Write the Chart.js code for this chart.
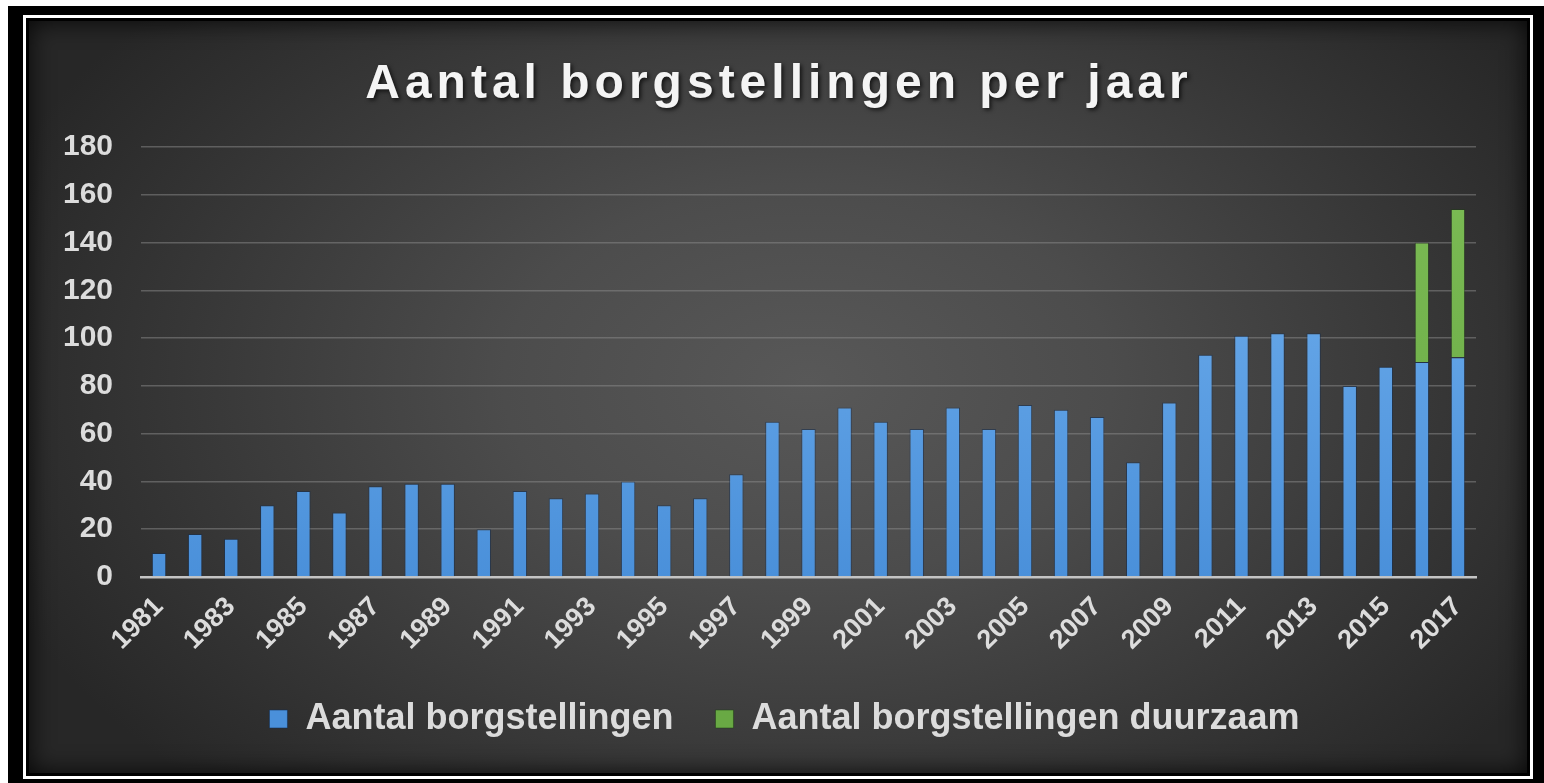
<!DOCTYPE html>
<html lang="nl">
<head>
    <meta charset="UTF-8">
    <title>Aantal borgstellingen per jaar</title>
    <script src="https://cdn.jsdelivr.net/npm/chart.js@4.4.1/dist/chart.umd.min.js"></script>
    <style>
        html, body { margin: 0; padding: 0; background: #fff; width: 1544px; height: 783px; overflow: hidden; }
        #outer { position: absolute; left: 8px; top: 6px; width: 1536px; height: 777px; background: #000; }
        #frame { position: absolute; left: 23px; top: 15px; width: 1510px; height: 764px; border: 3px solid #fff; box-sizing: border-box; }
        #panel {
            position: absolute; left: 29px; top: 21px; width: 1498px; height: 752px;
            background: radial-gradient(ellipse 58% 75% at 52% 48%, #585858 0%, #4c4c4c 35%, #353535 75%, #272727 100%);
            box-shadow: inset 0 0 24px rgba(0, 0, 0, 0.85);
        }
    </style>
</head>
<body>
    <div id="outer"></div>
    <div id="frame"></div>
    <div id="panel"><canvas id="chart"></canvas></div>

    <script>
        const titleText = 'Aantal borgstellingen per jaar';
        const years = ['1981', '1982', '1983', '1984', '1985', '1986', '1987', '1988', '1989', '1990',
                       '1991', '1992', '1993', '1994', '1995', '1996', '1997', '1998', '1999', '2000',
                       '2001', '2002', '2003', '2004', '2005', '2006', '2007', '2008', '2009', '2010',
                       '2011', '2012', '2013', '2014', '2015', '2016', '2017'];
        const borgstellingen = [10, 18, 16, 30, 36, 27, 38, 39, 39, 20,
                                36, 33, 35, 40, 30, 33, 43, 65, 62, 71,
                                65, 62, 71, 62, 72, 70, 67, 48, 73, 93,
                                101, 102, 102, 80, 88, 90, 92];
        const duurzaam = [null, null, null, null, null, null, null, null, null, null,
                          null, null, null, null, null, null, null, null, null, null,
                          null, null, null, null, null, null, null, null, null, null,
                          null, null, null, null, null, 50, 62];
        const yTicks = [0, 20, 40, 60, 80, 100, 120, 140, 160, 180];

        const fontFamily = '"Liberation Sans", Arial, sans-serif';

        // vertical gradient for the bars, light at the top
        function barGradient(top, bottom) {
            return function(context) {
                const area = context.chart.chartArea;
                if (!area) return bottom;
                const g = context.chart.ctx.createLinearGradient(0, area.top, 0, area.bottom);
                g.addColorStop(0, top);
                g.addColorStop(1, bottom);
                return g;
            };
        }

        // title drawn by hand so it can have the wide letter spacing
        const spacedTitle = {
            id: 'spacedTitle',
            afterDraw(chart) {
                const ctx = chart.ctx;
                ctx.save();
                ctx.font = 'bold 48px ' + fontFamily;
                ctx.letterSpacing = '5px';
                ctx.fillStyle = '#f4f4f4';
                ctx.textAlign = 'center';
                ctx.textBaseline = 'alphabetic';
                ctx.shadowColor = 'rgba(0, 0, 0, 0.7)';
                ctx.shadowBlur = 4;
                ctx.shadowOffsetX = 2;
                ctx.shadowOffsetY = 2;
                ctx.fillText(titleText, chart.width / 2 + 1, 77);
                ctx.restore();
            }
        };

        const ctx = document.getElementById('chart').getContext('2d');
        new Chart(ctx, {
            type: 'bar',
            data: {
                labels: years,
                datasets: [{
                    label: 'Aantal borgstellingen',
                    data: borgstellingen,
                    backgroundColor: barGradient('#74b2ef', '#4a90da'),
                    borderColor: 'rgba(20, 45, 80, 0.55)',
                    borderWidth: 1
                }, {
                    label: 'Aantal borgstellingen duurzaam',
                    data: duurzaam,
                    backgroundColor: barGradient('#7cbc55', '#69a944'),
                    borderColor: 'rgba(30, 60, 20, 0.5)',
                    borderWidth: 1
                }]
            },
            options: {
                responsive: true,
                maintainAspectRatio: false,
                animation: false,
                layout: { padding: { top: 126, left: 30, right: 17, bottom: 26 } },
                datasets: { bar: { categoryPercentage: 1, barPercentage: 0.4 } },
                scales: {
                    x: {
                        stacked: true,
                        grid: { display: false },
                        border: { display: true, color: '#c4c4c4', width: 2.5 },
                        ticks: {
                            autoSkip: false,
                            maxRotation: 45,
                            minRotation: 45,
                            padding: 6,
                            color: '#dcdcdc',
                            font: { family: fontFamily, size: 27, weight: 'bold' },
                            callback: function(value, index) {
                                return index % 2 === 0 ? years[index] : '';
                            }
                        },
                        afterFit: function(scale) { scale.height = 82; }
                    },
                    y: {
                        stacked: true,
                        min: 0,
                        max: 180,
                        afterBuildTicks: function(scale) {
                            scale.ticks = yTicks.map(v => ({ value: v }));
                        },
                        grid: {
                            drawTicks: false,
                            color: function(c) { return c.tick && c.tick.value === 0 ? 'rgba(0,0,0,0)' : 'rgba(140, 140, 140, 0.5)'; },
                            lineWidth: 1.5
                        },
                        border: { display: false },
                        ticks: {
                            padding: 28,
                            color: '#dcdcdc',
                            font: { family: fontFamily, size: 30, weight: 'bold' }
                        },
                        afterFit: function(scale) { scale.width = 82; }
                    },
                    // empty right-hand axis, only keeps the plot clear of the right edge
                    spacer: {
                        position: 'right',
                        grid: { display: false },
                        border: { display: false },
                        ticks: { display: false },
                        afterFit: function(scale) { scale.width = 34; }
                    }
                },
                plugins: {
                    title: { display: false },
                    tooltip: { enabled: false },
                    legend: {
                        position: 'bottom',
                        labels: {
                            color: '#dcdcdc',
                            boxWidth: 18,
                            boxHeight: 18,
                            padding: 42,
                            font: { family: fontFamily, size: 36, weight: 'bold' }
                        }
                    }
                }
            },
            plugins: [spacedTitle]
        });
    </script>
</body>
</html>
